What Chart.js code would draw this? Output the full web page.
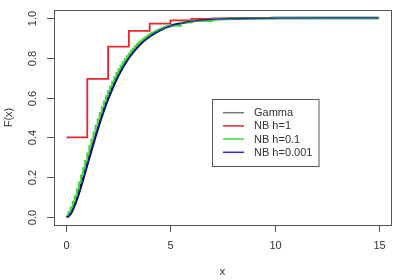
<!DOCTYPE html>
<html>
<head>
<meta charset="utf-8">
<script src="https://cdn.jsdelivr.net/npm/chart.js@4.4.1/dist/chart.umd.min.js"></script>
<style>
  html, body { margin: 0; padding: 0; background: #fff; }
  #wrap { width: 396px; height: 280px; }
</style>
</head>
<body>
<div id="wrap"><canvas id="cdfChart" width="396" height="280"></canvas></div>
<script>
// Gamma CDF (smooth curve)
const gammaX = [0, 0.1, 0.25, 0.5, 0.75, 1, 1.25, 1.5, 1.75, 2, 2.5, 3, 3.5, 4, 4.5, 5, 6, 7, 8, 10, 12, 15]
const gammaY = [0, 0.005, 0.026, 0.090, 0.173, 0.264, 0.355, 0.442, 0.522, 0.594, 0.713, 0.801, 0.864, 0.908, 0.939, 0.960, 0.983, 0.993, 0.997, 0.9995, 1, 1]

// NB h=0.001 (lies on the gamma curve)
const nb001X = [0, 0.1, 0.25, 0.5, 0.75, 1, 1.25, 1.5, 1.75, 2, 2.5, 3, 3.5, 4, 4.5, 5, 6, 7, 8, 10, 12, 15]
const nb001Y = [0, 0.005, 0.026, 0.090, 0.173, 0.264, 0.355, 0.442, 0.522, 0.594, 0.713, 0.801, 0.864, 0.908, 0.939, 0.960, 0.983, 0.993, 0.997, 0.9995, 1, 1]

// NB h=1 (steps at integers)
const nb1X = [0, 1, 2, 3, 4, 5, 6, 7, 8, 9, 10, 11, 12, 13, 14, 15]
const nb1Y = [0.400, 0.694, 0.856, 0.935, 0.972, 0.988, 0.995, 0.998, 0.999, 1, 1, 1, 1, 1, 1, 1]

// NB h=0.1 (steps every 0.1)
const nb01X = [
  0, 0.1, 0.2, 0.3, 0.4, 0.5, 0.6, 0.7, 0.8, 0.9,
  1.0, 1.1, 1.2, 1.3, 1.4, 1.5, 1.6, 1.7, 1.8, 1.9,
  2.0, 2.1, 2.2, 2.3, 2.4, 2.5, 2.6, 2.7, 2.8, 2.9,
  3.0, 3.1, 3.2, 3.3, 3.4, 3.5, 3.6, 3.7, 3.8, 3.9,
  4.0, 4.1, 4.2, 4.3, 4.4, 4.5, 4.6, 4.7, 4.8, 4.9,
  5.5, 6, 7, 8, 10, 15
]
const nb01Y = [
  0.009, 0.025, 0.048, 0.075, 0.105, 0.138, 0.173, 0.209, 0.245, 0.282,
  0.319, 0.355, 0.390, 0.425, 0.458, 0.491, 0.522, 0.552, 0.580, 0.607,
  0.633, 0.657, 0.680, 0.702, 0.723, 0.742, 0.760, 0.777, 0.793, 0.808,
  0.822, 0.835, 0.847, 0.859, 0.869, 0.879, 0.888, 0.897, 0.905, 0.912,
  0.919, 0.925, 0.931, 0.936, 0.941, 0.946, 0.950, 0.954, 0.958, 0.961,
  0.977, 0.985, 0.994, 0.997, 0.9996, 1
]

const xTicks = [0, 5, 10, 15]
const yTicks = [0, 0.2, 0.4, 0.6, 0.8, 1.0]
const seriesNames = ["Gamma", "NB h=1", "NB h=0.1", "NB h=0.001"]

const FONT = '11px "Liberation Sans", Arial, Helvetica, sans-serif'
const TEXT = "#333"
const FRAME = "#555"

function pts(xs, ys) {
  return xs.map((x, i) => ({ x: x, y: ys[i] }))
}

// R-style frame, ticks, labels and legend
const rStyle = {
  id: "rStyle",
  afterDraw(chart) {
    const ctx = chart.ctx
    const a = chart.chartArea
    const xs = chart.scales.x
    const ys = chart.scales.y
    ctx.save()
    ctx.strokeStyle = FRAME
    ctx.lineWidth = 1
    ctx.strokeRect(Math.round(a.left) + 0.5, Math.round(a.top) + 0.5, Math.round(a.right - a.left), Math.round(a.bottom - a.top))

    ctx.fillStyle = TEXT
    ctx.font = FONT
    ctx.textAlign = "center"
    ctx.textBaseline = "middle"

    // x axis
    xTicks.forEach((t) => {
      const px = Math.round(xs.getPixelForValue(t)) + 0.5
      ctx.beginPath()
      ctx.moveTo(px, a.bottom)
      ctx.lineTo(px, a.bottom + 7)
      ctx.stroke()
      ctx.fillText(String(t), px, a.bottom + 21)
    })
    ctx.fillText("x", (a.left + a.right) / 2, 272)

    // y axis
    yTicks.forEach((t) => {
      const py = Math.round(ys.getPixelForValue(t)) + 0.5
      ctx.beginPath()
      ctx.moveTo(a.left, py)
      ctx.lineTo(a.left - 7, py)
      ctx.stroke()
      ctx.save()
      ctx.translate(a.left - 21, py)
      ctx.rotate(-Math.PI / 2)
      ctx.fillText(t.toFixed(1), 0, 0)
      ctx.restore()
    })
    ctx.save()
    ctx.translate(9, (a.top + a.bottom) / 2)
    ctx.rotate(-Math.PI / 2)
    ctx.fillText("F(x)", 0, 0)
    ctx.restore()

    // legend box
    const bx = 212.5, by = 99.5, bw = 106.5, bh = 67
    ctx.fillStyle = "#fff"
    ctx.fillRect(bx, by, bw, bh)
    ctx.strokeStyle = FRAME
    ctx.strokeRect(bx, by, bw, bh)
    const legendColors = ["#7a7a7a", "#e8262c", "#3ed63e", "#2a2ae6"]
    ctx.textAlign = "left"
    seriesNames.forEach((name, i) => {
      const ly = 112.7 + i * 13.2
      ctx.strokeStyle = legendColors[i]
      ctx.lineWidth = 1.5
      ctx.beginPath()
      ctx.moveTo(223, ly)
      ctx.lineTo(244, ly)
      ctx.stroke()
      ctx.fillStyle = TEXT
      ctx.fillText(name, 254, ly + 0.5)
    })
    ctx.restore()
  },
}

const cdfChart = new Chart(document.getElementById("cdfChart"), {
  type: "line",
  data: {
    datasets: [
      {
        label: seriesNames[0],
        data: pts(gammaX, gammaY),
        borderColor: "#000",
        borderWidth: 2.4,
        cubicInterpolationMode: "monotone",
        order: 4,
      },
      {
        label: seriesNames[1],
        data: pts(nb1X, nb1Y),
        borderColor: "#e8262c",
        borderWidth: 1.8,
        stepped: true,
        order: 3,
      },
      {
        label: seriesNames[2],
        data: pts(nb01X, nb01Y),
        borderColor: "#3ed63e",
        borderWidth: 2,
        stepped: true,
        order: 2,
      },
      {
        label: seriesNames[3],
        data: pts(nb001X, nb001Y),
        borderColor: "rgba(20, 20, 200, 0.85)",
        borderWidth: 1.3,
        cubicInterpolationMode: "monotone",
        order: 1,
      },
    ],
  },
  options: {
    responsive: false,
    animation: false,
    layout: { padding: { left: 54, right: 5, top: 10, bottom: 55 } },
    elements: { point: { radius: 0 } },
    plugins: { legend: { display: false }, tooltip: { enabled: false } },
    scales: {
      x: { type: "linear", min: -0.6, max: 15.6, display: false },
      y: { type: "linear", min: -0.04, max: 1.04, display: false },
    },
  },
  plugins: [rStyle],
})
</script>
</body>
</html>
